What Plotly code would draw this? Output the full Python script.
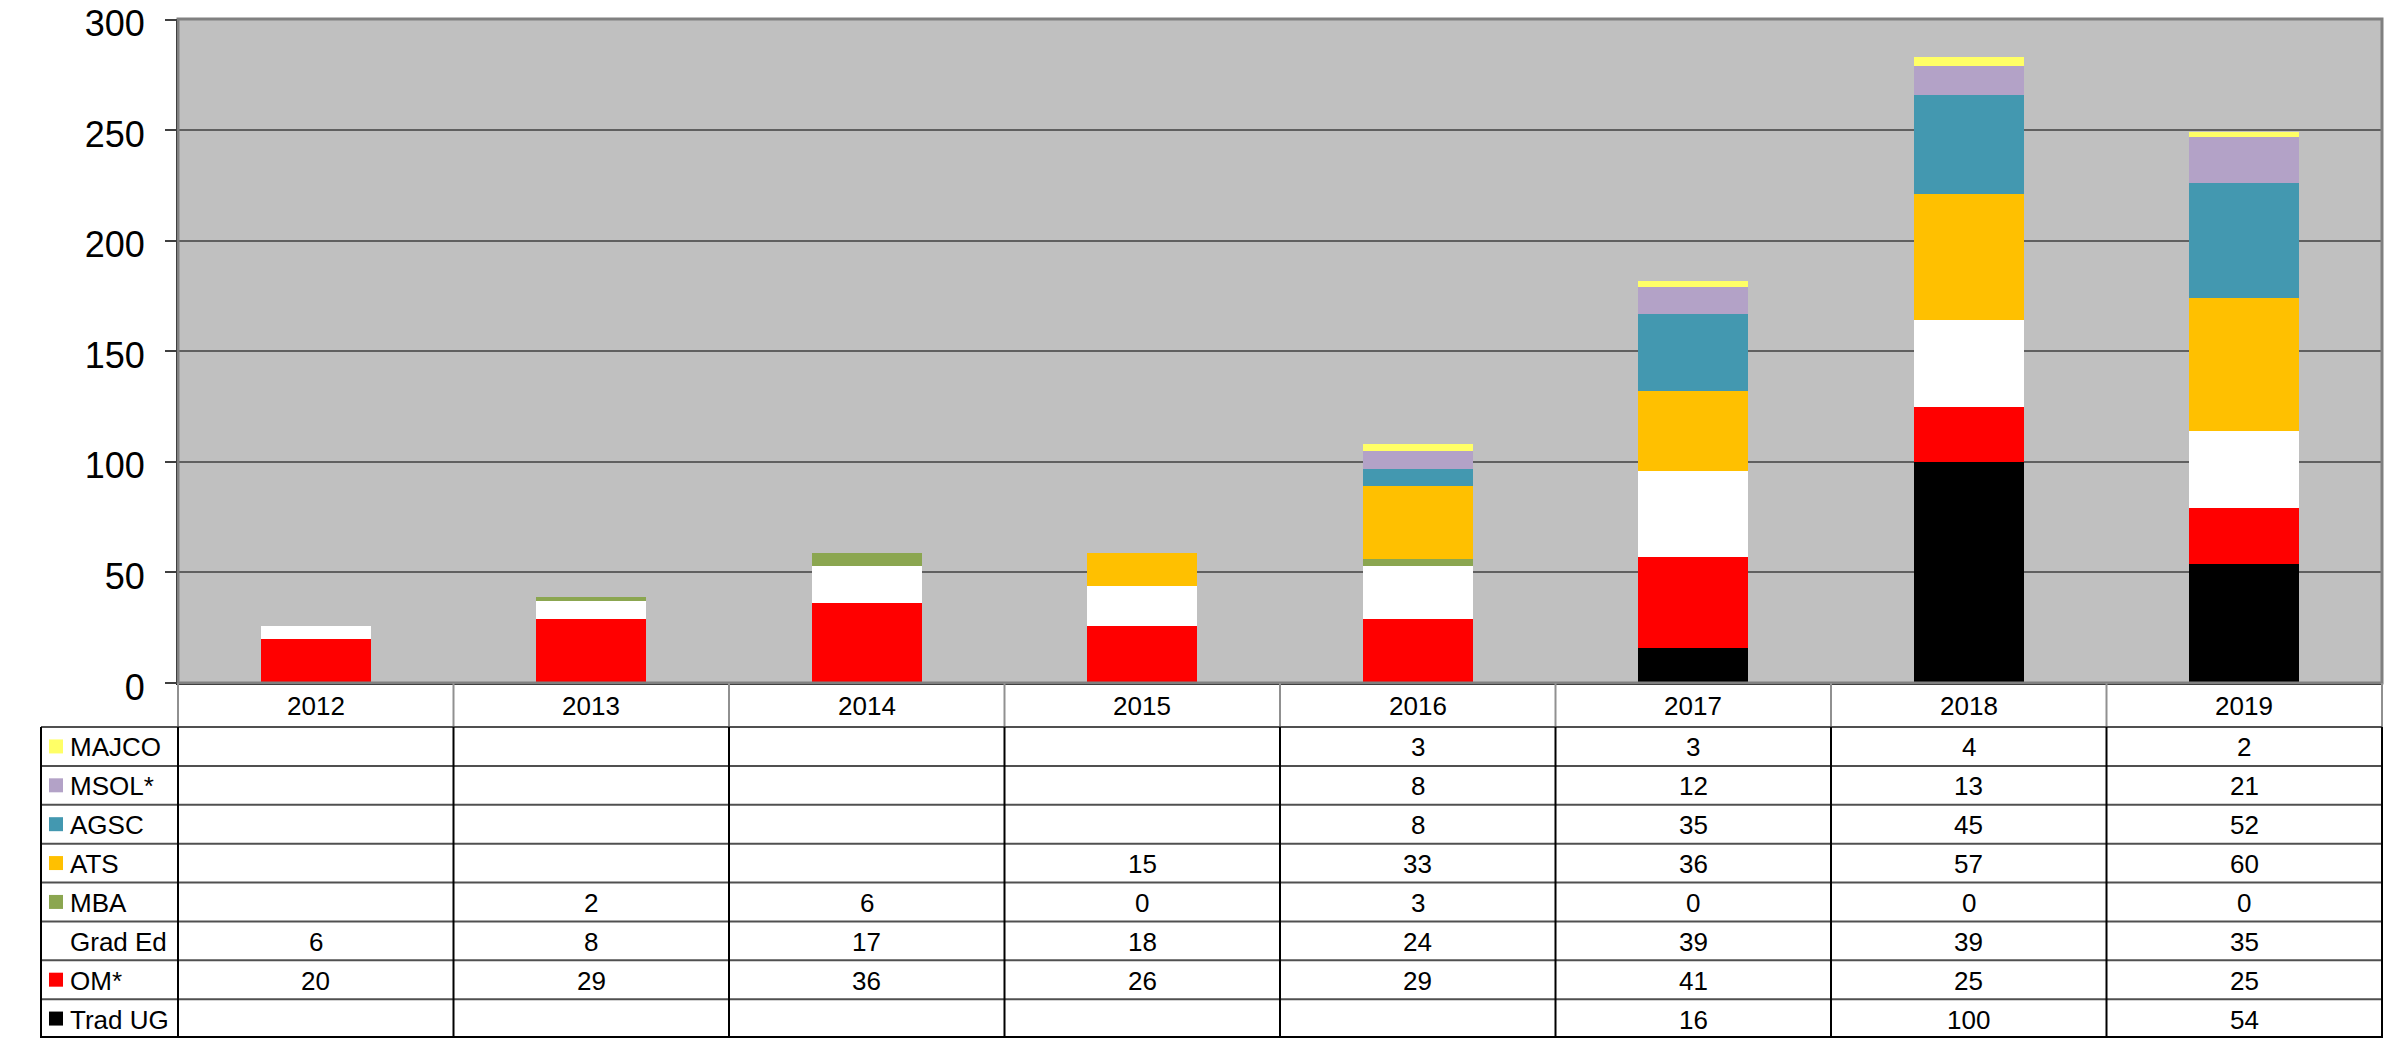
import plotly.graph_objects as go

# ---------------------------------------------------------------------------
# data
# ---------------------------------------------------------------------------

years = ["2012", "2013", "2014", "2015", "2016", "2017", "2018", "2019"]

trad_ug = [None, None, None, None, None, 16, 100, 54]
om = [20, 29, 36, 26, 29, 41, 25, 25]
grad_ed = [6, 8, 17, 18, 24, 39, 39, 35]
mba = [None, 2, 6, 0, 3, 0, 0, 0]
ats = [None, None, None, 15, 33, 36, 57, 60]
agsc = [None, None, None, None, 8, 35, 45, 52]
msol = [None, None, None, None, 8, 12, 13, 21]
majco = [None, None, None, None, 3, 3, 4, 2]

# stacking order, bottom to top
series = [
    ("Trad UG", trad_ug, "#000000"),
    ("OM*", om, "#FF0000"),
    ("Grad Ed", grad_ed, "#FFFFFF"),
    ("MBA", mba, "#8BA650"),
    ("ATS", ats, "#FFC000"),
    ("AGSC", agsc, "#4398B0"),
    ("MSOL*", msol, "#B3A2C7"),
    ("MAJCO", majco, "#FFFF66"),
]

y_ticks = [0, 50, 100, 150, 200, 250, 300]

# ---------------------------------------------------------------------------
# geometry, in page pixels (the page body adds an 8px margin)
# ---------------------------------------------------------------------------

PAGE_W, PAGE_H = 2408, 1038
OFF = 8
W, H = PAGE_W - OFF, PAGE_H - OFF
PLOT_L, PLOT_R = 178, 2382
PLOT_T, PLOT_B = 19, 683
HEADER_B = 727
ROW_H = (PAGE_H - HEADER_B) / len(series)
LABEL_L = 41
FONT = "Liberation Sans, Arial, sans-serif"


def px(x):
    return (x - OFF) / W


def py(y):
    return 1 - (y - OFF) / H


x0, x1 = px(PLOT_L), px(PLOT_R)
col_w = (x1 - x0) / len(years)

fig = go.Figure()

for name, vals, color in series:
    fig.add_trace(
        go.Bar(
            x=years,
            y=[v if v is not None else 0 for v in vals],
            name=name,
            marker=dict(color=color, line=dict(width=0)),
            hoverinfo="x+y+name",
        )
    )

shapes = []
annotations = []


def cell_text(k, y, text):
    # k is the category index on the x axis
    return dict(x=k, xref="x", y=y, yref="paper", text=text, xanchor="center",
                yanchor="middle", showarrow=False,
                font=dict(size=26, color="black", family=FONT))


# plot frame (top / right)
shapes.append(
    dict(type="rect", xref="paper", yref="paper", x0=x0, x1=x1,
         y0=py(PLOT_B), y1=py(PLOT_T), line=dict(color="#808080", width=3))
)

# header row: vertical separators and year labels
for k in range(len(years) + 1):
    shapes.append(
        dict(type="line", xref="paper", yref="paper", x0=x0 + k * col_w, x1=x0 + k * col_w,
             y0=py(PLOT_B), y1=py(HEADER_B), line=dict(color="#909090", width=2))
    )
for k, yr in enumerate(years):
    annotations.append(cell_text(k, py((PLOT_B + HEADER_B) / 2 + 1), yr))

# data rows, top to bottom
rows = list(reversed(series))
for i, (name, vals, color) in enumerate(rows):
    top = HEADER_B + i * ROW_H
    mid = top + ROW_H / 2
    shapes.append(
        dict(type="line", xref="paper", yref="paper", x0=px(LABEL_L), x1=x1,
             y0=py(top), y1=py(top), line=dict(color="#505050", width=2))
    )
    if color != "#FFFFFF":
        shapes.append(
            dict(type="rect", xref="paper", yref="paper", x0=px(49), x1=px(63),
                 y0=py(mid + 7), y1=py(mid - 7), fillcolor=color, line=dict(width=0))
        )
    annotations.append(
        dict(x=px(68), xref="paper", y=py(mid + 1), yref="paper", text=name,
             xanchor="left", yanchor="middle", showarrow=False,
             font=dict(size=26, color="black", family=FONT))
    )
    for k, v in enumerate(vals):
        if v is None:
            continue
        annotations.append(cell_text(k, py(mid + 1), str(v)))

# bottom border
shapes.append(
    dict(type="line", xref="paper", yref="paper", x0=px(LABEL_L), x1=x1,
         y0=py(PAGE_H - 1), y1=py(PAGE_H - 1), line=dict(color="#000000", width=2))
)

# vertical lines through the data rows
for xp in [px(LABEL_L)] + [x0 + k * col_w for k in range(len(years) + 1)]:
    shapes.append(
        dict(type="line", xref="paper", yref="paper", x0=xp, x1=xp,
             y0=py(HEADER_B), y1=py(PAGE_H), line=dict(color="#000000", width=2))
    )

fig.update_layout(
    width=W,
    height=H,
    margin=dict(l=0, r=0, t=0, b=0),
    barmode="stack",
    bargap=0.6,
    showlegend=False,
    paper_bgcolor="white",
    plot_bgcolor="#C0C0C0",
    font=dict(family=FONT, color="black"),
    xaxis=dict(
        domain=[x0, x1],
        type="category",
        categoryorder="array",
        categoryarray=years,
        range=[-0.5, len(years) - 0.5],
        showticklabels=False,
        ticks="",
        showgrid=False,
        showline=True,
        linecolor="black",
        linewidth=2,
        automargin=False,
    ),
    yaxis=dict(
        domain=[py(PLOT_B), py(PLOT_T)],
        range=[0, 300.3],
        tickvals=y_ticks,
        ticks="outside",
        ticklen=11,
        tickwidth=2,
        tickcolor="#404040",
        tickfont=dict(size=36, color="black", family=FONT),
        ticklabelstandoff=13,
        ticklabelshift=4,
        ticklabeloverflow="allow",
        showgrid=True,
        gridcolor="#606060",
        gridwidth=2,
        zeroline=True,
        zerolinecolor="black",
        zerolinewidth=2,
        showline=True,
        linecolor="black",
        linewidth=2,
        automargin=False,
    ),
    shapes=shapes,
    annotations=annotations,
)

fig.write_html("out.html")
